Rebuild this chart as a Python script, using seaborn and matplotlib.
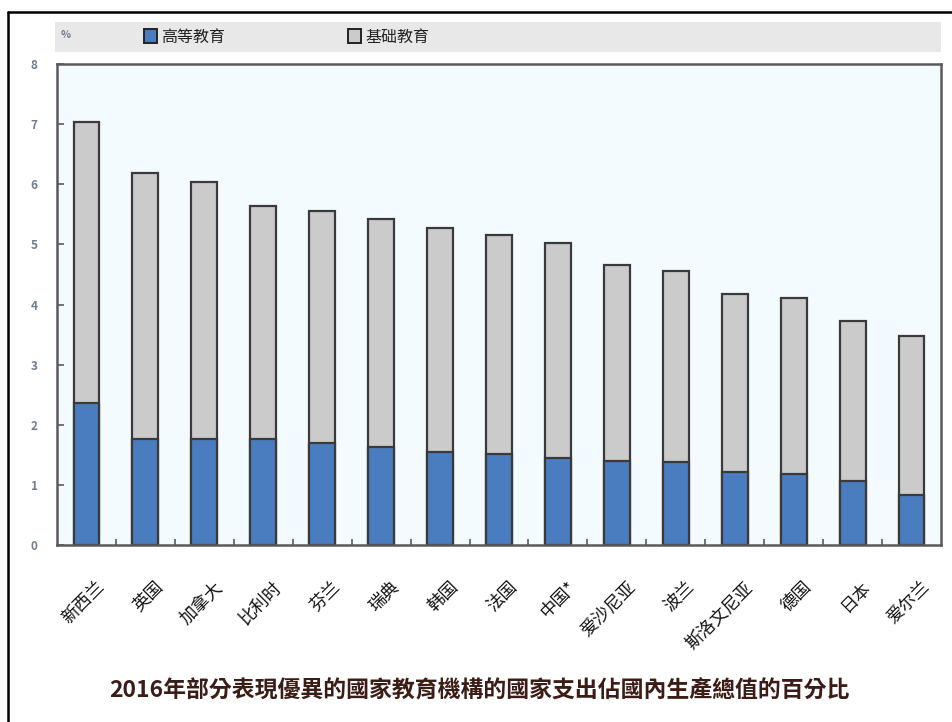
import matplotlib
matplotlib.use("Agg")
import matplotlib.pyplot as plt
import matplotlib.transforms as mtransforms
import seaborn as sns
import pandas as pd
from matplotlib.patches import Rectangle
from matplotlib.lines import Line2D
from matplotlib.ticker import FixedLocator

sns.set_theme(style="white")
plt.rcParams['font.family'] = ['Noto Sans CJK SC', 'DejaVu Sans']

countries = ["新西兰", "英国", "加拿大", "比利时", "芬兰", "瑞典", "韩国", "法国",
             "中国*", "爱沙尼亚", "波兰", "斯洛文尼亚", "德国", "日本", "爱尔兰"]
total = [7.03, 6.18, 6.03, 5.63, 5.55, 5.43, 5.28, 5.15, 5.02, 4.65, 4.55, 4.18, 4.10, 3.73, 3.48]
tertiary = [2.37, 1.77, 1.77, 1.77, 1.70, 1.63, 1.55, 1.52, 1.45, 1.40, 1.38, 1.22, 1.18, 1.07, 0.83]
legend_labels = ["高等教育", "基础教育"]
title = "2016年部分表現優異的國家教育機構的國家支出佔國內生產總值的百分比"
y_ticks = [0, 1, 2, 3, 4, 5, 6, 7, 8]

df = pd.DataFrame({"country": countries, "total": total, "tertiary": tertiary})

W, H = 953, 722
fig = plt.figure(figsize=(W / 100, H / 100), dpi=100)
ax = fig.add_axes([57 / W, 1 - 545 / H, (941 - 57) / W, (545 - 64) / H])
ax.set_facecolor("#f4fbfe")

blue = "#4a7dbf"
gray = "#cbcbcb"
edge = "#3a3a3a"

sns.barplot(data=df, x="country", y="total", color=gray, width=0.44,
            edgecolor=edge, linewidth=1.6, saturation=1, ax=ax, zorder=2)
sns.barplot(data=df, x="country", y="tertiary", color=blue, width=0.44,
            edgecolor=edge, linewidth=1.6, saturation=1, ax=ax, zorder=3)

ax.set_xlim(-0.5, len(countries) - 0.5)
ax.set_ylim(0, 8)
ax.set_yticks(y_ticks)
ax.set_xlabel("")
ax.set_ylabel("")

for s in ax.spines.values():
    s.set_visible(True)
    s.set_color("#5a5a5a")
    s.set_linewidth(1.8)
    s.set_zorder(5)

ax.tick_params(axis="y", direction="in", length=5, width=1.2, color="#5a5a5a",
               labelsize=8.5, labelcolor="#6e7c8e", pad=14, left=True)
ax.tick_params(axis="x", which="major", length=0, pad=0, labelsize=12.5, labelcolor="#111111")
ax.xaxis.set_minor_locator(FixedLocator([i + 0.5 for i in range(len(countries) - 1)]))
ax.tick_params(axis="x", which="minor", direction="in", length=4, width=1.2,
               color="#5a5a5a", bottom=True)
offset = mtransforms.ScaledTranslation(9 / 100, -33 / 100, fig.dpi_scale_trans)
for lbl in ax.get_xticklabels():
    lbl.set_rotation(45)
    lbl.set_ha("right")
    lbl.set_va("top")
    lbl.set_rotation_mode("anchor")
    lbl.set_transform(lbl.get_transform() + offset)
for lbl in ax.get_yticklabels():
    lbl.set_fontweight("bold")

# legend band
fig.add_artist(Rectangle((55 / W, 1 - 52 / H), (941 - 55) / W, 30 / H,
                         transform=fig.transFigure, facecolor="#e8e8e8",
                         edgecolor="none", zorder=0))
fig.text(61 / W, 1 - 35 / H, "%", fontsize=7.5, color="#6e7c8e", va="center", ha="left",
         fontweight="bold")
fig.add_artist(Rectangle((144 / W, 1 - 43 / H), 13 / W, 14 / H, transform=fig.transFigure,
                         facecolor=blue, edgecolor="#222222", linewidth=1.4, zorder=2))
fig.text(161 / W, 1 - 37 / H, legend_labels[0], fontsize=11.5, color="#222222",
         va="center", ha="left")
fig.add_artist(Rectangle((348 / W, 1 - 43 / H), 13 / W, 14 / H, transform=fig.transFigure,
                         facecolor=gray, edgecolor="#222222", linewidth=1.4, zorder=2))
fig.text(365 / W, 1 - 37 / H, legend_labels[1], fontsize=11.5, color="#222222",
         va="center", ha="left")

# outer frame (top and left)
fig.add_artist(Line2D([8 / W, 1.0], [1 - 12 / H, 1 - 12 / H], transform=fig.transFigure,
                      color="black", linewidth=1.8))
fig.add_artist(Line2D([8 / W, 8 / W], [1 - 12 / H, 0.0], transform=fig.transFigure,
                      color="black", linewidth=1.8))

fig.text(479 / W, 1 - 690 / H, title, fontsize=16.5, fontweight="bold", color="#3b1c16",
         ha="center", va="center", family=["Noto Sans CJK TC", "DejaVu Sans"])

fig.savefig("out.png", dpi=100)
